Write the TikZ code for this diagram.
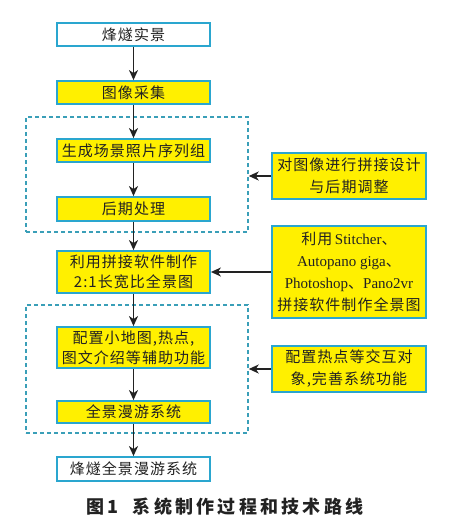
\documentclass[tikz,border=0pt]{standalone}
\usepackage{fontspec}
\usetikzlibrary{arrows.meta}
\newfontfamily\cjkf[LetterSpace=7]{Noto Sans CJK SC}
\newfontfamily\capf[LetterSpace=18]{Noto Sans CJK SC}
\newfontfamily\latf{Liberation Serif}
\newcommand{\lat}[1]{{\latf #1}}
\definecolor{bordc}{HTML}{2AA6CF}
\definecolor{dashc}{HTML}{3A9FB8}
\definecolor{yel}{HTML}{FFF000}
\definecolor{ink}{HTML}{222222}
\begin{document}
\begin{tikzpicture}[x=1pt,y=-1pt,
  box/.style={draw=bordc,line width=1.8pt,fill=yel,minimum width=153pt,inner sep=0pt,
    text=ink,align=center,font=\cjkf\fontsize{15}{20}\selectfont},
  wbox/.style={box,fill=white},
  rbox/.style={box,minimum width=154pt,font=\cjkf\fontsize{15}{22}\selectfont},
  dbox/.style={draw=dashc,line width=1.5pt,dash pattern=on 4pt off 3pt,minimum width=222pt,inner sep=0pt},
  arr/.style={draw=ink,line width=1.6pt,-{Stealth[length=10pt,width=9pt,inset=3pt]}}]
\useasboundingbox (0,0) rectangle (448,528);
\node[dbox,minimum height=115pt] (d1) at (137,174.5) {};
\node[dbox,minimum height=128pt] (d2) at (137,369) {};
\node[wbox,minimum height=23pt] (b1) at (133.5,34.5) {烽燧实景};
\node[box,minimum height=23pt] (b2) at (133.5,92.5) {图像采集};
\node[box,minimum height=23pt] (b3) at (133.5,150.5) {生成场景照片序列组};
\node[box,minimum height=24pt] (b4) at (133.5,209) {后期处理};
\node[box,minimum height=42pt] (b5) at (133.5,272) {利用拼接软件制作\\2:1长宽比全景图};
\node[box,minimum height=41pt] (b6) at (133.5,347.5) {配置小地图,热点,\\图文介绍等辅助功能};
\node[box,minimum height=22pt] (b7) at (133.5,412) {全景漫游系统};
\node[wbox,minimum height=24pt] (b8) at (133.5,469) {烽燧全景漫游系统};
\node[rbox,minimum height=46pt] (r1) at (349,176) {对图像进行拼接设计\\与后期调整};
\node[rbox,minimum height=92pt] (r2) at (349,272) {利用\,\lat{Stitcher}、\\\lat{Autopano giga}、\\\lat{Photoshop}、\lat{Pano2vr}\\拼接软件制作全景图};
\node[rbox,minimum height=46pt] (r3) at (349,369) {配置热点等交互对\\象,完善系统功能};
\node[text=ink,font=\capf\bfseries\fontsize{18}{20}\selectfont] (cap) at (225,507) {图1\hspace{14pt}系统制作过程和技术路线};
\draw[arr] (b1) -- (b2);
\draw[arr] (b2) -- (b3);
\draw[arr] (b3) -- (b4);
\draw[arr] (b4) -- (b5);
\draw[arr] (b5) -- (b6);
\draw[arr] (b6) -- (b7);
\draw[arr] (b7) -- (b8);
\draw[arr] (r1.west) -- (r1.west -| d1.east);
\draw[arr] (r2.west) -- (b5.east);
\draw[arr] (r3.west) -- (r3.west -| d2.east);
\end{tikzpicture}
\end{document}
